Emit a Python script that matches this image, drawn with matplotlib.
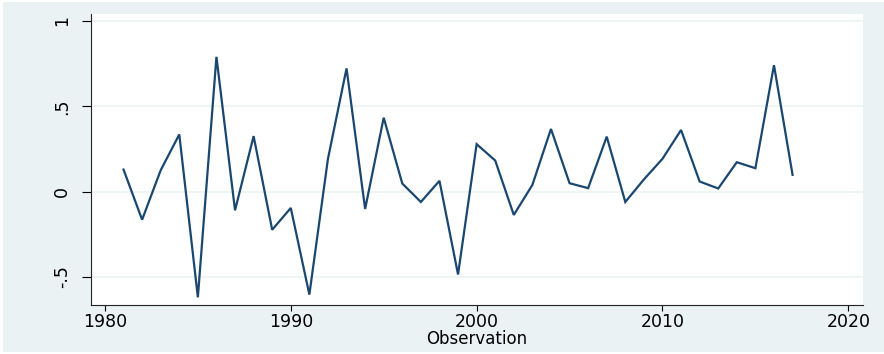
import numpy as np
import matplotlib.pyplot as plt
from matplotlib.patches import Rectangle

# annual series
years = list(range(1981, 2018))
values = [0.129, -0.165, 0.125, 0.335, -0.62, 0.79, -0.11, 0.325, -0.224, -0.096,
          -0.604, 0.192, 0.722, -0.102, 0.433, 0.047, -0.061, 0.063, -0.486, 0.278,
          0.182, -0.137, 0.039, 0.367, 0.049, 0.02, 0.322, -0.061, 0.071, 0.192,
          0.361, 0.059, 0.018, 0.172, 0.137, 0.741, 0.098]

xticks = [1980, 1990, 2000, 2010, 2020]
yticks = [-0.5, 0, 0.5, 1]
ytick_labels = ["-.5", "0", ".5", "1"]

bg = "#eaf2f3"
navy = "#1a476f"

fig = plt.figure(figsize=(8.84, 3.54), dpi=100)
fig.patch.set_facecolor("white")
fig.patches.append(Rectangle((3 / 884, 2 / 354), 881 / 884, 350 / 354,
                             transform=fig.transFigure, facecolor=bg,
                             edgecolor="none", zorder=-10))

ax = fig.add_axes([91 / 884, 49 / 354, 772 / 884, 291 / 354])
ax.set_facecolor("white")

ax.plot(years, values, color=navy, lw=1.6, solid_joinstyle="miter")

ax.set_xlim(1979.25, 2020.79)
ax.set_ylim(-0.665, 1.041)

ax.set_xticks(xticks)
ax.set_yticks(yticks)
ax.set_yticklabels(ytick_labels, rotation=90, va="center")
ax.tick_params(axis="y", length=6.5, width=0.8, pad=8, labelsize=12.5, colors="black")
ax.tick_params(axis="x", length=4.5, width=0.8, pad=1, labelsize=12.5, colors="black")

ax.grid(axis="y", color=bg, lw=1.1)
ax.set_axisbelow(True)

for side in ["top", "right"]:
    ax.spines[side].set_visible(False)
for side in ["left", "bottom"]:
    ax.spines[side].set_color("#222222")
    ax.spines[side].set_linewidth(0.8)

ax.set_xlabel("Observation", fontsize=12, va="center")
ax.xaxis.set_label_coords(0.5, -0.118)

fig.savefig("out.png", dpi=100, facecolor=fig.get_facecolor())
